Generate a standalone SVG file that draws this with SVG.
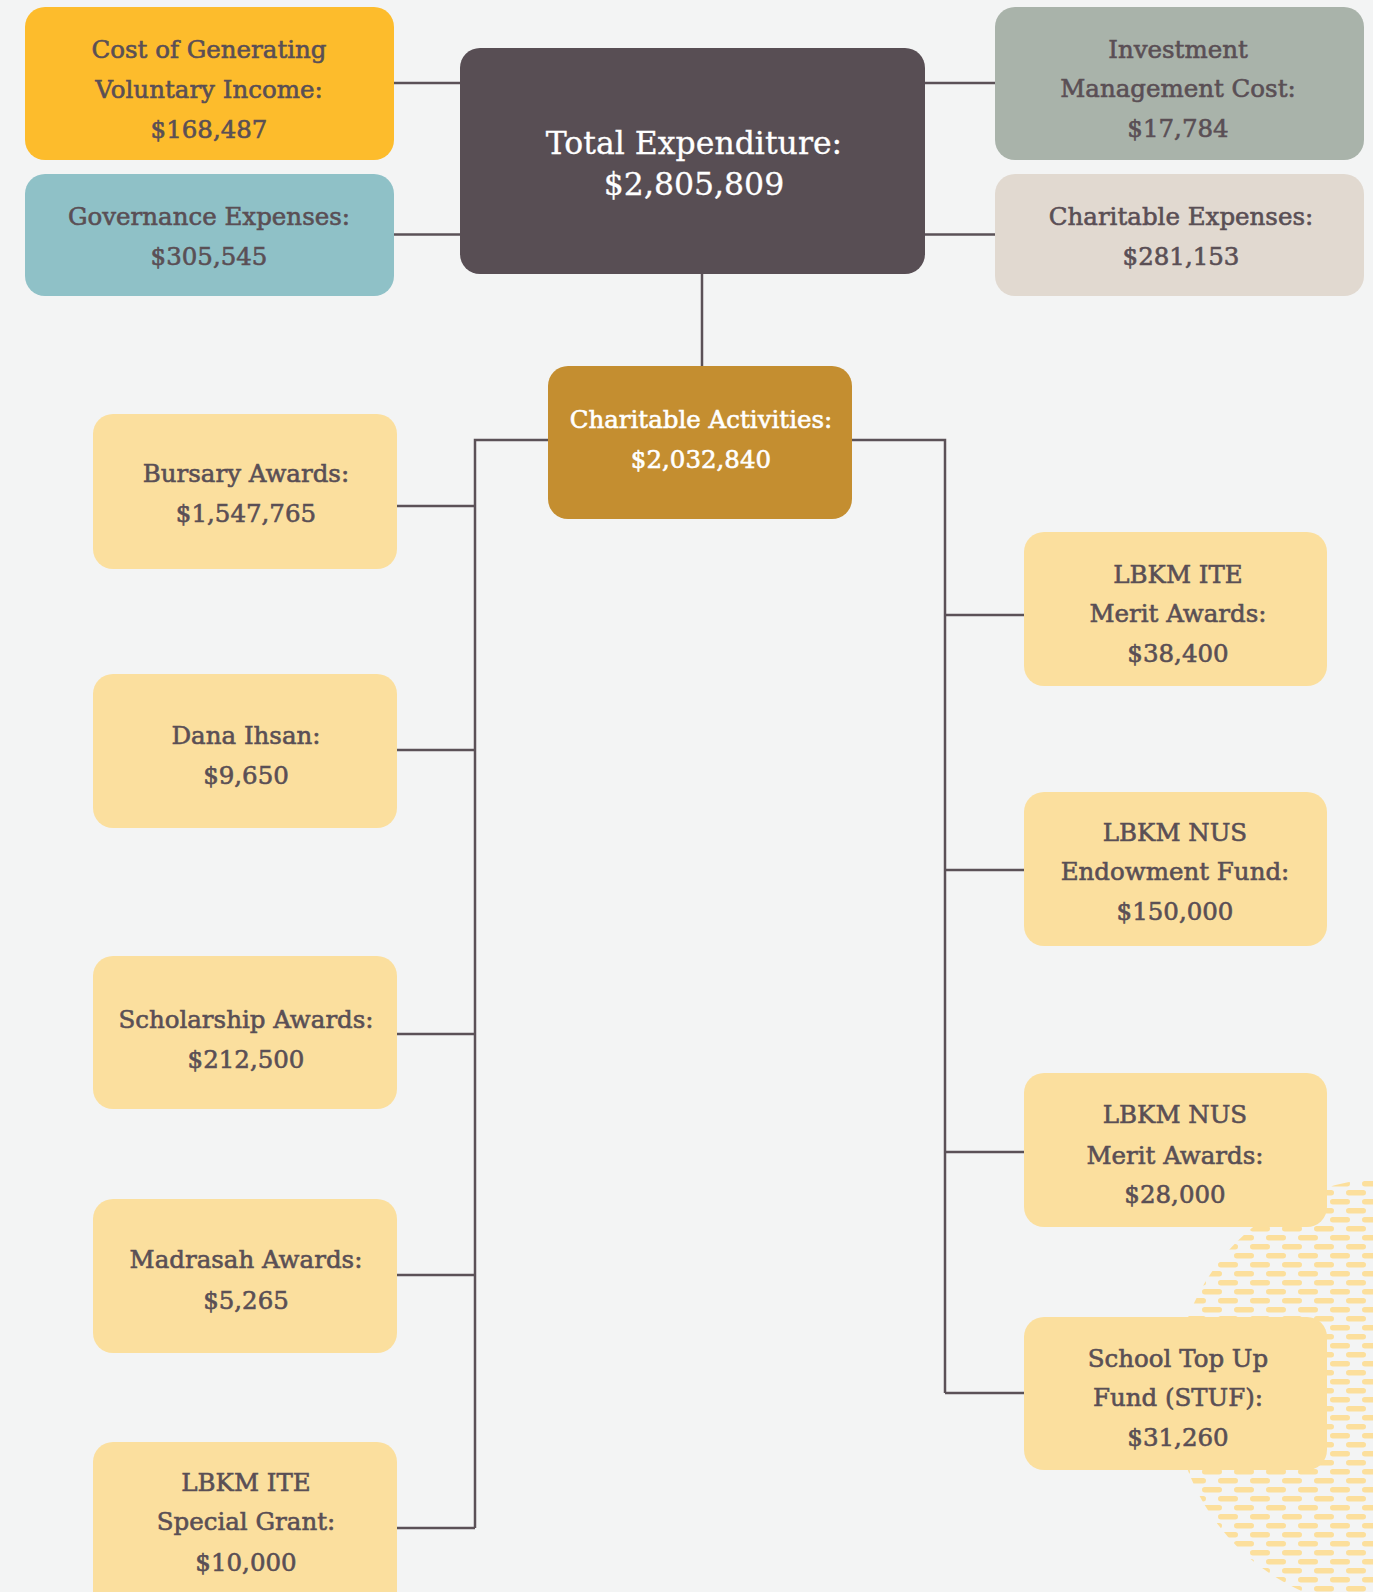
<svg xmlns="http://www.w3.org/2000/svg" width="1373" height="1592" viewBox="0 0 1373 1592">
<style>
.t{font-family:"DejaVu Serif","Liberation Serif",serif;font-size:24.5px;fill:#5a4f55;stroke:#5a4f55;stroke-width:0.6;text-anchor:middle;dominant-baseline:central}
.w{fill:#ffffff;stroke:#ffffff}
.big{font-size:31.5px;stroke-width:0.3}
.lf{fill:#fbdf9e}
.ln{stroke:#5b5157;stroke-width:2.5;fill:none}
</style>
<defs>
<pattern id="dash" width="32" height="18" patternUnits="userSpaceOnUse">
<rect x="2" y="2" width="20" height="5.5" rx="2.75" fill="#fcdf9c"/>
<rect x="18" y="11" width="20" height="5.5" rx="2.75" fill="#fcdf9c"/>
<rect x="-14" y="11" width="20" height="5.5" rx="2.75" fill="#fcdf9c"/>
</pattern>
</defs>
<rect width="1373" height="1592" fill="#f3f4f4"/>
<circle cx="1390" cy="1394" r="216" fill="url(#dash)"/>
<g id="connectors">
<path class="ln" d="M394 83H460M394 234.5H460M925 83H995M925 234.5H995M702 274V366"/>
<path class="ln" d="M548 440H475V1528M397 506H475M397 750H475M397 1034H475M397 1275H475M397 1528H475"/>
<path class="ln" d="M852 440H945V1393M945 615H1024M945 870H1024M945 1152H1024M945 1393H1024"/>
</g>
<g id="n-cost"><rect x="25" y="7" width="369" height="153" rx="20" fill="#fdbc2c"/>
<text class="t" x="209" y="49">Cost of Generating</text><text class="t" x="209" y="89">Voluntary Income:</text><text class="t" x="209" y="129">$168,487</text></g>
<g id="n-gov"><rect x="25" y="174" width="369" height="122" rx="20" fill="#8fc1c7"/>
<text class="t" x="209" y="216">Governance Expenses:</text><text class="t" x="209" y="256">$305,545</text></g>
<g id="n-total"><rect x="460" y="48" width="465" height="226" rx="20" fill="#584e54"/>
<text class="t w big" x="694" y="143">Total Expenditure:</text><text class="t w big" x="694" y="184">$2,805,809</text></g>
<g id="n-inv"><rect x="995" y="7" width="369" height="153" rx="20" fill="#a9b3aa"/>
<text class="t" x="1178" y="49">Investment</text><text class="t" x="1178" y="88">Management Cost:</text><text class="t" x="1178" y="128">$17,784</text></g>
<g id="n-cexp"><rect x="995" y="174" width="369" height="122" rx="20" fill="#e1d9d0"/>
<text class="t" x="1181" y="216">Charitable Expenses:</text><text class="t" x="1181" y="256">$281,153</text></g>
<g id="n-cact"><rect x="548" y="366" width="304" height="153" rx="20" fill="#c48e30"/>
<text class="t w" x="701" y="419">Charitable Activities:</text><text class="t w" x="701" y="459">$2,032,840</text></g>
<g id="n-bursary"><rect class="lf" x="93" y="414" width="304" height="155" rx="20"/>
<text class="t" x="246" y="473">Bursary Awards:</text><text class="t" x="246" y="513">$1,547,765</text></g>
<g id="n-dana"><rect class="lf" x="93" y="674" width="304" height="154" rx="20"/>
<text class="t" x="246" y="735">Dana Ihsan:</text><text class="t" x="246" y="775">$9,650</text></g>
<g id="n-scholar"><rect class="lf" x="93" y="956" width="304" height="153" rx="20"/>
<text class="t" x="246" y="1019">Scholarship Awards:</text><text class="t" x="246" y="1059">$212,500</text></g>
<g id="n-madrasah"><rect class="lf" x="93" y="1199" width="304" height="154" rx="20"/>
<text class="t" x="246" y="1259">Madrasah Awards:</text><text class="t" x="246" y="1300">$5,265</text></g>
<g id="n-itespecial"><rect class="lf" x="93" y="1442" width="304" height="170" rx="20"/>
<text class="t" x="246" y="1482">LBKM ITE</text><text class="t" x="246" y="1521">Special Grant:</text><text class="t" x="246" y="1562">$10,000</text></g>
<g id="n-itemerit"><rect class="lf" x="1024" y="532" width="303" height="154" rx="20"/>
<text class="t" x="1178" y="574">LBKM ITE</text><text class="t" x="1178" y="613">Merit Awards:</text><text class="t" x="1178" y="653">$38,400</text></g>
<g id="n-nusendow"><rect class="lf" x="1024" y="792" width="303" height="154" rx="20"/>
<text class="t" x="1175" y="832">LBKM NUS</text><text class="t" x="1175" y="871">Endowment Fund:</text><text class="t" x="1175" y="911">$150,000</text></g>
<g id="n-nusmerit"><rect class="lf" x="1024" y="1073" width="303" height="154" rx="20"/>
<text class="t" x="1175" y="1114">LBKM NUS</text><text class="t" x="1175" y="1155">Merit Awards:</text><text class="t" x="1175" y="1194">$28,000</text></g>
<g id="n-stuf"><rect class="lf" x="1024" y="1317" width="303" height="153" rx="20"/>
<text class="t" x="1178" y="1358">School Top Up</text><text class="t" x="1178" y="1397">Fund (STUF):</text><text class="t" x="1178" y="1437">$31,260</text></g>
</svg>
